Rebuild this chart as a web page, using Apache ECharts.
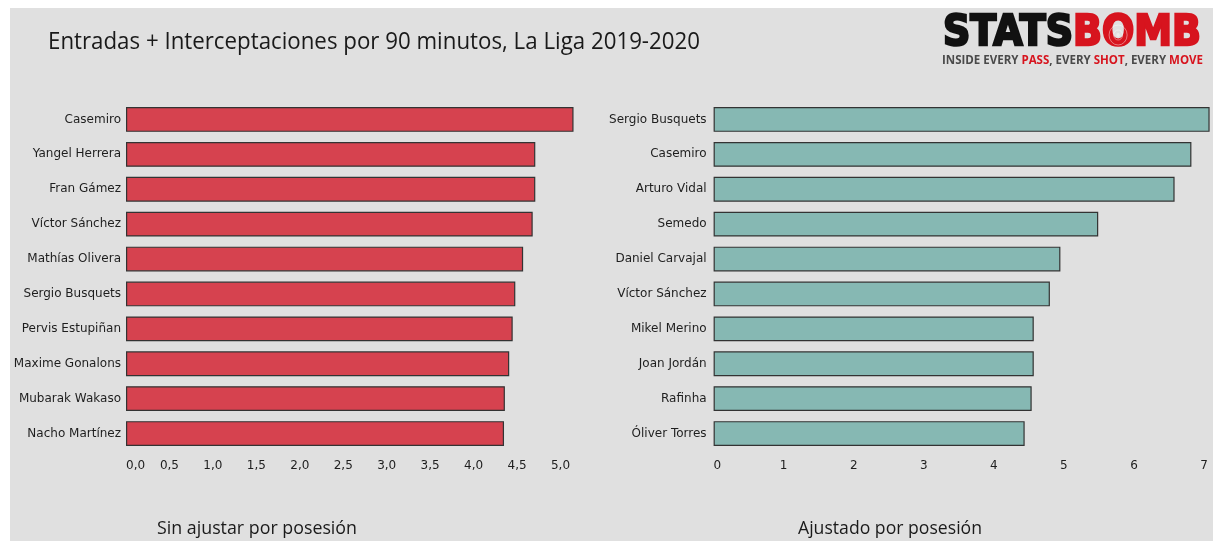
<!DOCTYPE html>
<html><head><meta charset="utf-8">
<script src="https://cdn.jsdelivr.net/npm/echarts@6/dist/echarts.min.js"></script>
<style>html,body{margin:0;padding:0;background:#fff}#c{width:1213px;height:541px}</style>
</head><body><div id="c"></div>
<script>
const leftPlayers = ['Casemiro','Yangel Herrera','Fran Gámez','Víctor Sánchez','Mathías Olivera','Sergio Busquets','Pervis Estupiñan','Maxime Gonalons','Mubarak Wakaso','Nacho Martínez'];
const leftValues = [5.15, 4.71, 4.71, 4.68, 4.57, 4.48, 4.45, 4.41, 4.36, 4.35];
const rightPlayers = ['Sergio Busquets','Casemiro','Arturo Vidal','Semedo','Daniel Carvajal','Víctor Sánchez','Mikel Merino','Joan Jordán','Rafinha','Óliver Torres'];
const rightValues = [7.08, 6.82, 6.58, 5.49, 4.95, 4.80, 4.57, 4.57, 4.54, 4.44];
const titleText = 'Entradas + Interceptaciones por 90 minutos, La Liga 2019-2020';
const leftSubtitle = 'Sin ajustar por posesión';
const rightSubtitle = 'Ajustado por posesión';
const logoMain = ['STATS', 'BOMB'];
const logoTag = [['INSIDE EVERY ', 0], ['PASS', 1], [', EVERY ', 0], ['SHOT', 1], [', EVERY ', 0], ['MOVE', 1]];

const cv = document.createElement('canvas').getContext('2d');
function tw(text, font) { cv.font = font; return cv.measureText(text).width; }

const RED = '#d7141e';
const titleFont = '23px "Open Sans"';
const subFont = '19px "Open Sans"';
const logoFont = 'bold 42px "DejaVu Sans"';
const tagFont = 'bold 13px "Open Sans"';

const graphics = [];
graphics.push({type:'rect', shape:{x:10, y:8, width:1203, height:533}, style:{fill:'#e0e0e0'}, z:-10, silent:true});
graphics.push({type:'text', x:48, y:42, scaleX: 652 / tw(titleText, titleFont),
  style:{text:titleText, font:titleFont, fill:'#1a1a1a', align:'left', verticalAlign:'middle'}});
graphics.push({type:'text', x:257, y:529, scaleX: 200 / tw(leftSubtitle, subFont),
  style:{text:leftSubtitle, font:subFont, fill:'#1a1a1a', align:'center', verticalAlign:'middle'}});
graphics.push({type:'text', x:890, y:529, scaleX: 184 / tw(rightSubtitle, subFont),
  style:{text:rightSubtitle, font:subFont, fill:'#1a1a1a', align:'center', verticalAlign:'middle'}});

// logo
const w1 = tw(logoMain[0], logoFont), w2 = tw(logoMain[1], logoFont);
const wB = tw('B', logoFont), wO = tw('O', logoFont);
const ox = w1 + wB + wO / 2;
graphics.push({type:'group', x:943, y:34, scaleX: 258 / (w1 + w2), children:[
  {type:'text', x:0, y:0, style:{text:logoMain[0], font:logoFont, fill:'#111', stroke:'#111', lineWidth:2.5, align:'left', verticalAlign:'middle'}},
  {type:'text', x:w1, y:0, style:{text:logoMain[1], font:logoFont, fill:RED, stroke:RED, lineWidth:2.5, align:'left', verticalAlign:'middle'}},
  {type:'circle', shape:{cx:ox, cy:1, r:10}, style:{fill:'none', stroke:'rgba(255,255,255,0.45)', lineWidth:1}},
  {type:'circle', shape:{cx:ox, cy:1, r:5}, style:{fill:'none', stroke:'rgba(255,255,255,0.45)', lineWidth:1}},
  {type:'circle', shape:{cx:ox, cy:1, r:2}, style:{fill:'rgba(255,255,255,0.4)'}}
]});
let tx = 0; const tagChildren = [];
logoTag.forEach(([t, red]) => {
  tagChildren.push({type:'text', x:tx, y:0, style:{text:t, font:tagFont, fill: red ? RED : '#4a4a4a', align:'left', verticalAlign:'middle'}});
  tx += tw(t, tagFont);
});
graphics.push({type:'group', x:942, y:60, scaleX: 261 / tx, children: tagChildren});

const labelStyle = {color:'#1e1e1e', fontFamily:'"DejaVu Sans"', fontSize:12};
const chart = echarts.init(document.getElementById('c'), null, {renderer:'canvas'});
chart.setOption({
  backgroundColor:'#ffffff',
  animation:false,
  graphic: graphics,
  grid:[
    {left:126, top:102, width:5.2*86.9, height:349},
    {left:713.6, top:102, width:7.1*70.06, height:349}
  ],
  xAxis:[
    {gridIndex:0, type:'value', min:0, max:5.2, interval:0.5,
     axisLine:{show:false}, axisTick:{show:false}, splitLine:{show:false},
     axisLabel:Object.assign({}, labelStyle, {margin:9, showMaxLabel:false, alignMinLabel:'left',
       formatter: v => v.toFixed(1).replace('.', ',')})},
    {gridIndex:1, type:'value', min:0, max:7.1, interval:1,
     axisLine:{show:false}, axisTick:{show:false}, splitLine:{show:false},
     axisLabel:Object.assign({}, labelStyle, {margin:9, showMaxLabel:false, alignMinLabel:'left',
       formatter: v => String(Math.round(v))})}
  ],
  yAxis:[
    {gridIndex:0, type:'category', data:leftPlayers, inverse:true,
     axisLine:{show:false}, axisTick:{show:false}, splitLine:{show:false},
     axisLabel:Object.assign({}, labelStyle, {margin:5})},
    {gridIndex:1, type:'category', data:rightPlayers, inverse:true,
     axisLine:{show:false}, axisTick:{show:false}, splitLine:{show:false},
     axisLabel:Object.assign({}, labelStyle, {margin:7})}
  ],
  series:[
    {type:'bar', xAxisIndex:0, yAxisIndex:0, data:leftValues, barWidth:'71%',
     itemStyle:{color:'#d6424f', borderColor:'#333', borderWidth:1.2}},
    {type:'bar', xAxisIndex:1, yAxisIndex:1, data:rightValues, barWidth:'71%',
     itemStyle:{color:'#86b8b3', borderColor:'#333', borderWidth:1.2}}
  ]
});
</script></body></html>
